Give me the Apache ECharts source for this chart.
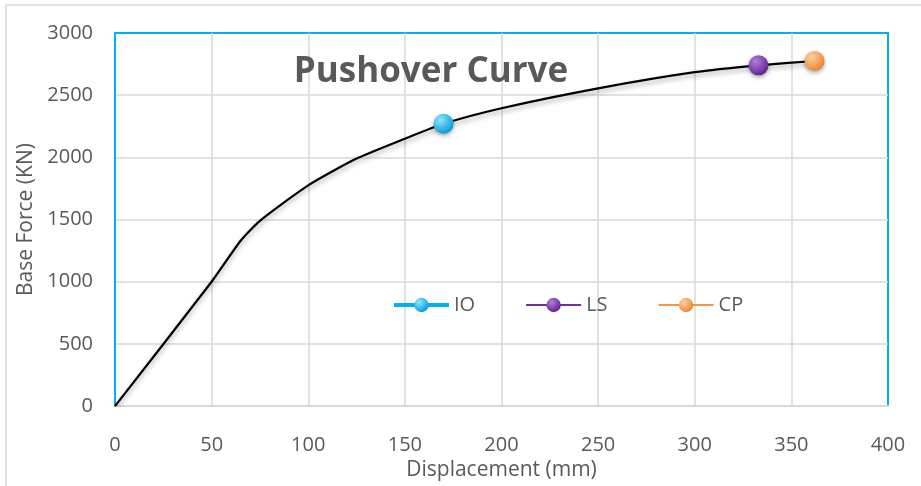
<!DOCTYPE html>
<html><head><meta charset="utf-8">
<script src="https://cdn.jsdelivr.net/npm/echarts@6/dist/echarts.min.js"></script>
<style>html,body{margin:0;padding:0;background:#fff}#c{width:921px;height:486px}</style>
</head><body><div id="c"></div>
<script>
const displacement = [0, 50, 65, 75, 100, 125, 150, 170, 200, 250, 300, 333, 362];
const baseForce    = [0, 1000, 1330, 1490, 1775, 1990, 2150, 2270, 2395, 2555, 2685, 2740, 2775];
const ioPoint = [170, 2270];
const lsPoint = [333, 2740];
const cpPoint = [362, 2775];
const xTicks = [0, 50, 100, 150, 200, 250, 300, 350, 400];
const yTicks = [0, 500, 1000, 1500, 2000, 2500, 3000];
const titleText = 'Pushover Curve';
const xName = 'Displacement (mm)';
const yName = 'Base Force (KN)';

function sphere(c1, c2) {
  return new echarts.graphic.RadialGradient(0.35, 0.3, 0.75, [
    {offset: 0, color: c1}, {offset: 1, color: c2}
  ]);
}
const font = '"Open Sans", sans-serif';
const txt = '#595959';
const chart = echarts.init(document.getElementById('c'), null, {renderer: 'canvas'});
chart.setOption({
  animation: false,
  backgroundColor: '#fff',
  textStyle: {fontFamily: font},
  title: {
    text: titleText, left: 426, top: 50, textAlign: 'center',
    textStyle: {fontFamily: font, fontWeight: 'bold', fontSize: 35, color: txt}
  },
  legend: {
    left: 392, top: 295, padding: 0, itemWidth: 55, itemHeight: 18, itemGap: 50,
    textStyle: {fontFamily: font, fontSize: 20, color: txt},
    data: [
      {name: 'IO', lineStyle: {width: 4}},
      {name: 'LS', lineStyle: {width: 2}},
      {name: 'CP', lineStyle: {width: 2}}
    ]
  },
  grid: {left: 115, right: 33, top: 33, bottom: 79, show: true, borderColor: '#00b0f0', borderWidth: 2},
  xAxis: {
    type: 'value', min: xTicks[0], max: xTicks[xTicks.length - 1], interval: 50,
    name: xName, nameLocation: 'middle', nameGap: 51,
    nameTextStyle: {fontFamily: font, fontSize: 21, color: txt},
    axisLine: {lineStyle: {color: '#d9d9d9', width: 2}},
    axisTick: {show: false},
    axisLabel: {margin: 29, fontFamily: font, fontSize: 20, color: txt},
    splitLine: {showMinLine: false, showMaxLine: false, lineStyle: {color: '#d9d9d9', width: 1.5}}
  },
  yAxis: {
    type: 'value', min: yTicks[0], max: yTicks[yTicks.length - 1], interval: 500,
    name: yName, nameLocation: 'middle', nameGap: 78, nameRotate: 90,
    nameTextStyle: {fontFamily: font, fontSize: 21, color: txt},
    axisLine: {show: true, lineStyle: {color: '#00b0f0', width: 2}},
    axisTick: {show: false},
    axisLabel: {margin: 22, fontFamily: font, fontSize: 20, color: txt, formatter: v => String(v)},
    splitLine: {showMinLine: false, showMaxLine: false, lineStyle: {color: '#d9d9d9', width: 1.5}}
  },
  graphic: [{
    type: 'polyline', silent: true,
    shape: {points: [[6, 486], [6, 5], [921, 5]]},
    style: {stroke: '#d9d9d9', lineWidth: 1.5, fill: null}
  }],
  series: [
    {
      name: 'curve', type: 'line', smooth: 0.2, showSymbol: false, z: 3,
      data: displacement.map((d, i) => [d, baseForce[i]]),
      lineStyle: {color: '#000', width: 2.2, shadowColor: 'rgba(0,0,0,0.35)', shadowBlur: 5, shadowOffsetY: 3}
    },
    {
      name: 'IO', type: 'line', data: [ioPoint], symbol: 'circle', symbolSize: 20, z: 5,
      lineStyle: {color: '#00b0f0', width: 4},
      itemStyle: {color: sphere('#8fe6ff', '#0098d8'), shadowColor: 'rgba(0,0,0,0.35)', shadowBlur: 4, shadowOffsetY: 2}
    },
    {
      name: 'LS', type: 'line', data: [lsPoint], symbol: 'circle', symbolSize: 20, z: 5,
      lineStyle: {color: '#7030a0', width: 2},
      itemStyle: {color: sphere('#b07fd8', '#5d2090'), shadowColor: 'rgba(0,0,0,0.35)', shadowBlur: 4, shadowOffsetY: 2}
    },
    {
      name: 'CP', type: 'line', data: [cpPoint], symbol: 'circle', symbolSize: 20, z: 5,
      lineStyle: {color: '#f79646', width: 2},
      itemStyle: {color: sphere('#ffd09a', '#e8842e'), shadowColor: 'rgba(0,0,0,0.35)', shadowBlur: 4, shadowOffsetY: 2}
    }
  ]
});
</script></body></html>
